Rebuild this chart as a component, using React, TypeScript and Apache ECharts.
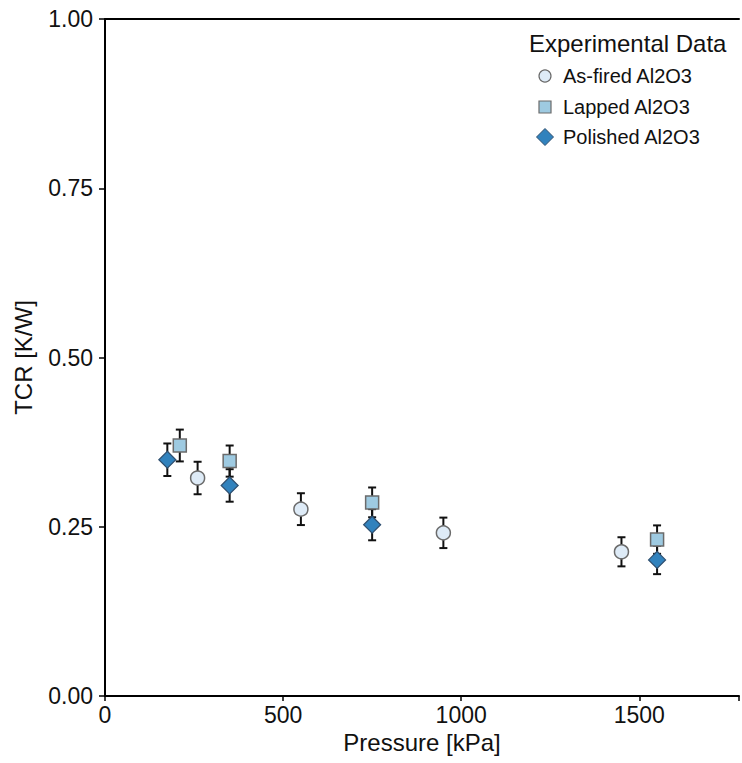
import React, { useEffect, useRef } from "react";
import * as echarts from "echarts";

// ---- Data ----
const asFiredX = [260, 550, 950, 1450];
const asFiredY = [0.322, 0.276, 0.241, 0.213];
const asFiredErr = [0.024, 0.0235, 0.0225, 0.0215];

const lappedX = [210, 350, 750, 1550];
const lappedY = [0.370, 0.347, 0.286, 0.231];
const lappedErr = [0.0235, 0.023, 0.022, 0.021];

const polishedX = [175, 350, 750, 1550];
const polishedY = [0.349, 0.311, 0.253, 0.201];
const polishedErr = [0.024, 0.024, 0.023, 0.021];

const seriesNames = ["As-fired Al2O3", "Lapped Al2O3", "Polished Al2O3"];
const legendTitle = "Experimental Data";
const xTitle = "Pressure [kPa]";
const yTitle = "TCR [K/W]";
const xTicks = [0, 500, 1000, 1500];
const yTicks = [0, 0.25, 0.5, 0.75, 1.0];

const FONT = "'Liberation Sans', Arial, sans-serif";
const colors = ["#deebf7", "#9ecae1", "#3182bd"];
const borders = ["#6b6b6b", "#6b6b6b", "#2f4f6f"];

function zip(xs: number[], ys: number[], es?: number[]) {
  return xs.map((x, i) => (es ? [x, ys[i], es[i]] : [x, ys[i]]));
}

function errSeries(data: number[][]) {
  return {
    type: "custom",
    z: 1,
    silent: true,
    data,
    encode: { x: 0, y: 1 },
    renderItem: (params: any, api: any) => {
      const x = api.value(0);
      const y = api.value(1);
      const e = api.value(2);
      const top = api.coord([x, y + e]);
      const bot = api.coord([x, y - e]);
      const hw = 4;
      const st = { stroke: "#111", lineWidth: 2 };
      return {
        type: "group",
        children: [
          { type: "line", shape: { x1: top[0], y1: top[1], x2: bot[0], y2: bot[1] }, style: st },
          { type: "line", shape: { x1: top[0] - hw, y1: top[1], x2: top[0] + hw, y2: top[1] }, style: st },
          { type: "line", shape: { x1: bot[0] - hw, y1: bot[1], x2: bot[0] + hw, y2: bot[1] }, style: st },
        ],
      };
    },
  };
}

export default function App() {
  const ref = useRef<HTMLDivElement>(null);
  useEffect(() => {
    document.body.style.margin = "0";
    if (!ref.current) return;
    const chart = echarts.init(ref.current, null, { renderer: "svg" });
    const xMax = 1780;
    const legendRows = [76, 107, 137];
    const iconX = 545;
    chart.setOption({
      animation: false,
      backgroundColor: "#ffffff",
      textStyle: { fontFamily: FONT },
      grid: { left: 105, top: 19, right: 0, bottom: 67, containLabel: false },
      xAxis: [
        {
          type: "value",
          min: 0,
          max: xMax,
          interval: 500,
          name: xTitle,
          nameLocation: "middle",
          nameGap: 32,
          nameTextStyle: { fontSize: 24, color: "#111", fontFamily: FONT },
          axisLine: { show: true, onZero: false, lineStyle: { color: "#000", width: 2 } },
          axisTick: { show: true, inside: false, length: 5, lineStyle: { color: "#000", width: 1.5 } },
          axisLabel: {
            fontSize: 23,
            color: "#111",
            margin: 7,
            fontFamily: FONT,
            formatter: (v: number) => (xTicks.includes(v) ? String(v) : ""),
          },
          splitLine: { show: false },
        },
        {
          type: "value",
          position: "top",
          min: 0,
          max: xMax,
          axisLine: { show: true, onZero: false, lineStyle: { color: "#000", width: 2 } },
          axisTick: { show: false },
          axisLabel: { show: false },
          splitLine: { show: false },
        },
      ],
      yAxis: {
        type: "value",
        min: 0,
        max: 1,
        interval: 0.25,
        name: yTitle,
        nameLocation: "middle",
        nameGap: 70,
        nameTextStyle: { fontSize: 24, color: "#111", fontFamily: FONT },
        axisLine: { show: true, onZero: false, lineStyle: { color: "#000", width: 2 } },
        axisTick: { show: true, inside: false, length: 6, lineStyle: { color: "#000", width: 1.5 } },
        axisLabel: {
          fontSize: 23,
          color: "#111",
          margin: 12,
          fontFamily: FONT,
          formatter: (v: number) => (yTicks.some((t) => Math.abs(t - v) < 1e-9) ? v.toFixed(2) : ""),
        },
        splitLine: { show: false },
      },
      series: [
        errSeries(zip(asFiredX, asFiredY, asFiredErr)),
        errSeries(zip(lappedX, lappedY, lappedErr)),
        errSeries(zip(polishedX, polishedY, polishedErr)),
        {
          name: seriesNames[0],
          type: "scatter",
          z: 3,
          symbol: "circle",
          symbolSize: 14,
          data: zip(asFiredX, asFiredY),
          itemStyle: { color: colors[0], borderColor: borders[0], borderWidth: 1.5, opacity: 1 },
        },
        {
          name: seriesNames[1],
          type: "scatter",
          z: 3,
          symbol: "rect",
          symbolSize: 13,
          data: zip(lappedX, lappedY),
          itemStyle: { color: colors[1], borderColor: borders[1], borderWidth: 1.5, opacity: 1 },
        },
        {
          name: seriesNames[2],
          type: "scatter",
          z: 3,
          symbol: "diamond",
          symbolSize: 17,
          data: zip(polishedX, polishedY),
          itemStyle: { color: colors[2], borderColor: borders[2], borderWidth: 1.2, opacity: 1 },
        },
      ],
      graphic: [
        {
          type: "text",
          left: 529,
          top: 31,
          style: { text: legendTitle, fontSize: 24, fill: "#111", fontFamily: FONT },
        },
        {
          type: "circle",
          shape: { cx: iconX, cy: legendRows[0], r: 6 },
          style: { fill: colors[0], stroke: borders[0], lineWidth: 1.2 },
        },
        {
          type: "rect",
          shape: { x: iconX - 6, y: legendRows[1] - 6, width: 12, height: 12 },
          style: { fill: colors[1], stroke: borders[1], lineWidth: 1.2 },
        },
        {
          type: "polygon",
          shape: {
            points: [
              [iconX, legendRows[2] - 8.5],
              [iconX + 8.5, legendRows[2]],
              [iconX, legendRows[2] + 8.5],
              [iconX - 8.5, legendRows[2]],
            ],
          },
          style: { fill: colors[2], stroke: borders[2], lineWidth: 1 },
        },
        ...seriesNames.map((n, i) => ({
          type: "text",
          x: 563,
          y: legendRows[i],
          style: {
            text: n,
            fontSize: 20,
            fill: "#111",
            fontFamily: FONT,
            textVerticalAlign: "middle",
            verticalAlign: "middle",
          },
        })),
      ],
    });
    return () => chart.dispose();
  }, []);
  return <div ref={ref} style={{ width: 742, height: 763 }} />;
}
